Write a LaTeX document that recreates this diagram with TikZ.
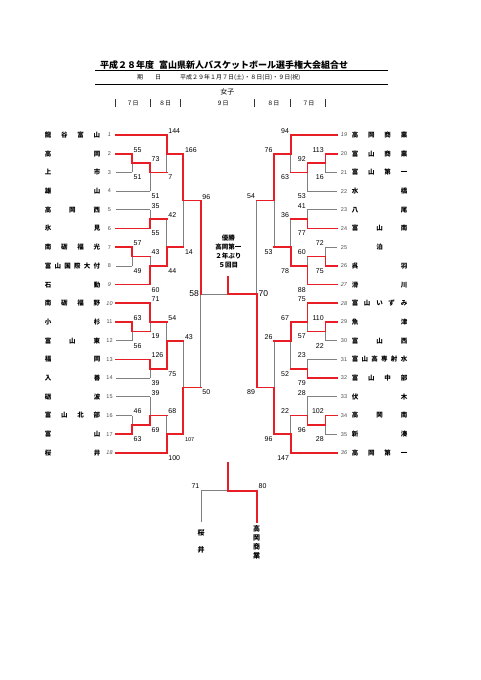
\documentclass[tikz,border=0pt]{standalone}
\usepackage{fontspec}
\setmainfont{Liberation Sans}
\newfontfamily\cjk{Noto Sans CJK JP}
\definecolor{lred}{RGB}{232,30,38}
\definecolor{lgray}{RGB}{128,128,128}
\pgfdeclarelayer{bg}
\pgfsetlayers{bg,main}
\newcommand{\Bk}[5]{%
  \begin{pgfonlayer}{bg}\draw[lose] (#1,#3) -- (#1,#4);\end{pgfonlayer}
  \draw[win] (#1,#2) -- (#1,#4) -- (#5,#4);}
\newcommand{\ScA}[4]{\node[sc,anchor=west] (#1) at ({#2+1.5},{#3-4}) {#4};}
\newcommand{\ScB}[4]{\node[sc,anchor=west] (#1) at ({#2+1.5},{#3+5}) {#4};}
\newcommand{\ScC}[4]{\node[sc,anchor=east] (#1) at ({#2-1.5},{#3-4}) {#4};}
\newcommand{\ScD}[4]{\node[sc,anchor=east] (#1) at ({#2-1.5},{#3+5}) {#4};}
\newcommand{\TeamN}[4]{\node[tn] (#1) at (#2,#3) {\makebox[55.5pt][s]{#4}};}
\newcommand{\TeamNo}[4]{\node[tno] (#1) at (#2,#3) {#4};}
\newcommand{\WinL}[3]{\draw[win] (#1,#3) -- (#2,#3);}
\newcommand{\LoseL}[3]{\begin{pgfonlayer}{bg}\draw[lose] (#1,#3) -- (#2,#3);\end{pgfonlayer}}
\begin{document}
\begin{tikzpicture}[x=1pt,y=-1pt,
  win/.style={draw=lred,line width=1.7pt,line cap=rect},
  lose/.style={draw=lgray,line width=0.8pt},
  sc/.style={font=\fontsize{7}{8}\selectfont,inner sep=0pt},
  fsc/.style={font=\fontsize{8.5}{9}\selectfont,inner sep=0pt},
  tn/.style={font=\cjk\bfseries\fontsize{6.5}{7}\selectfont,inner sep=0pt},
  tno/.style={font=\fontsize{5.5}{6}\selectfont,text=black!70,inner sep=0pt},
  hd/.style={font=\cjk\fontsize{6}{7}\selectfont,inner sep=0pt},
  ctext/.style={font=\cjk\bfseries\fontsize{6.5}{9}\selectfont,inner sep=0pt,align=center}]
\begin{pgfonlayer}{bg}
\fill[white] (0,0) rectangle (481,680);
\end{pgfonlayer}
\useasboundingbox (0,0) rectangle (481,680);

% ---------- header ----------
\node[font=\cjk\bfseries\fontsize{9}{10}\selectfont,anchor=west,inner sep=0pt] (title) at (100,65)
  {平成２８年度\hspace{5pt}富山県新人バスケットボール選手権大会組合せ};
\draw[line width=0.8pt] (95,70.7) -- (388,70.7);
\draw[line width=0.6pt] (95,84.3) -- (388,84.3);
\node[hd] (ki) at (140,77.7) {期};
\node[hd] (bi) at (158,77.7) {日};
\node[hd,anchor=west] (date) at (180,77.7) {平成２９年１月７日(土)・８日(日)・９日(祝)};
\node[hd,font=\cjk\fontsize{7}{8}\selectfont] (joshi) at (227.3,91.7) {女子};
\foreach \bx in {115,150,180.7,254,290,325}{\draw[line width=0.5pt,black!80] (\bx,99.3) -- (\bx,107.3);}
\node[hd] (d1) at (132.7,103.3) {７日};
\node[hd] (d2) at (165,103.3) {８日};
\node[hd] (d3) at (222.7,103.3) {９日};
\node[hd] (d4) at (273.3,103.3) {８日};
\node[hd] (d5) at (308.3,103.3) {７日};

% ---------- left team names ----------
\TeamN{l1}{72.5}{135}{龍\hfill 谷\hfill 富\hfill 山}
\TeamN{l2}{72.5}{153.7}{高\hfill 岡}
\TeamN{l3}{72.5}{172.4}{上\hfill 市}
\TeamN{l4}{72.5}{191.1}{雄\hfill 山}
\TeamN{l5}{72.5}{209.8}{高\hfill 岡\hfill 西}
\TeamN{l6}{72.5}{228.5}{氷\hfill 見}
\TeamN{l7}{72.5}{247.2}{南\hfill 砺\hfill 福\hfill 光}
\TeamN{l8}{72.5}{265.9}{富\hfill 山\hfill 国\hfill 際\hfill 大\hfill 付}
\TeamN{l9}{72.5}{284.6}{石\hfill 動}
\TeamN{l10}{72.5}{303.3}{南\hfill 砺\hfill 福\hfill 野}
\TeamN{l11}{72.5}{322}{小\hfill 杉}
\TeamN{l12}{72.5}{340.7}{富\hfill 山\hfill 東}
\TeamN{l13}{72.5}{359.4}{福\hfill 岡}
\TeamN{l14}{72.5}{378.1}{入\hfill 善}
\TeamN{l15}{72.5}{396.8}{砺\hfill 波}
\TeamN{l16}{72.5}{415.5}{富\hfill 山\hfill 北\hfill 部}
\TeamN{l17}{72.5}{434.2}{富\hfill 山}
\TeamN{l18}{72.5}{452.9}{桜\hfill 井}
% left numbers
\TeamNo{n1}{109.5}{135}{\textit{1}}
\TeamNo{n2}{109.5}{153.7}{2}
\TeamNo{n3}{109.5}{172.4}{3}
\TeamNo{n4}{109.5}{191.1}{4}
\TeamNo{n5}{109.5}{209.8}{5}
\TeamNo{n6}{109.5}{228.5}{6}
\TeamNo{n7}{109.5}{247.2}{7}
\TeamNo{n8}{109.5}{265.9}{8}
\TeamNo{n9}{109.5}{284.6}{\textit{9}}
\TeamNo{n10}{109.5}{303.3}{\textit{10}}
\TeamNo{n11}{109.5}{322}{11}
\TeamNo{n12}{109.5}{340.7}{12}
\TeamNo{n13}{109.5}{359.4}{13}
\TeamNo{n14}{109.5}{378.1}{14}
\TeamNo{n15}{109.5}{396.8}{15}
\TeamNo{n16}{109.5}{415.5}{16}
\TeamNo{n17}{109.5}{434.2}{17}
\TeamNo{n18}{109.5}{452.9}{\textit{18}}

% ---------- right team names ----------
\TeamN{r19}{379.5}{135}{高\hfill 岡\hfill 商\hfill 業}
\TeamN{r20}{379.5}{153.7}{富\hfill 山\hfill 商\hfill 業}
\TeamN{r21}{379.5}{172.4}{富\hfill 山\hfill 第\hfill 一}
\TeamN{r22}{379.5}{191.1}{水\hfill 橋}
\TeamN{r23}{379.5}{209.8}{八\hfill 尾}
\TeamN{r24}{379.5}{228.5}{富\hfill 山\hfill 南}
\TeamN{r25}{379.5}{247.2}{\hfill 泊\hfill}
\TeamN{r26}{379.5}{265.9}{呉\hfill 羽}
\TeamN{r27}{379.5}{284.6}{滑\hfill 川}
\TeamN{r28}{379.5}{303.3}{富\hfill 山\hfill い\hfill ず\hfill み}
\TeamN{r29}{379.5}{322}{魚\hfill 津}
\TeamN{r30}{379.5}{340.7}{富\hfill 山\hfill 西}
\TeamN{r31}{379.5}{359.4}{富\hfill 山\hfill 高\hfill 専\hfill 射\hfill 水}
\TeamN{r32}{379.5}{378.1}{富\hfill 山\hfill 中\hfill 部}
\TeamN{r33}{379.5}{396.8}{伏\hfill 木}
\TeamN{r34}{379.5}{415.5}{高\hfill 岡\hfill 南}
\TeamN{r35}{379.5}{434.2}{新\hfill 湊}
\TeamN{r36}{379.5}{452.9}{高\hfill 岡\hfill 第\hfill 一}
% right numbers
\TeamNo{n19}{344}{135}{\textit{19}}
\TeamNo{n20}{344}{153.7}{20}
\TeamNo{n21}{344}{172.4}{21}
\TeamNo{n22}{344}{191.1}{22}
\TeamNo{n23}{344}{209.8}{23}
\TeamNo{n24}{344}{228.5}{24}
\TeamNo{n25}{344}{247.2}{25}
\TeamNo{n26}{344}{265.9}{26}
\TeamNo{n27}{344}{284.6}{\textit{27}}
\TeamNo{n28}{344}{303.3}{\textit{28}}
\TeamNo{n29}{344}{322}{29}
\TeamNo{n30}{344}{340.7}{30}
\TeamNo{n31}{344}{359.4}{31}
\TeamNo{n32}{344}{378.1}{32}
\TeamNo{n33}{344}{396.8}{33}
\TeamNo{n34}{344}{415.5}{34}
\TeamNo{n35}{344}{434.2}{35}
\TeamNo{n36}{344}{452.9}{\textit{36}}

% ---------- left team lines ----------
\WinL{116}{166.7}{135}
\WinL{116}{132}{153.7}
\LoseL{116}{132}{172.4}
\LoseL{116}{150}{191.1}
\LoseL{116}{150}{209.8}
\WinL{116}{150}{228.5}
\WinL{116}{132}{247.2}
\LoseL{116}{132}{265.9}
\WinL{116}{150}{284.6}
\WinL{116}{150}{303.3}
\WinL{116}{132}{322}
\LoseL{116}{132}{340.7}
\WinL{116}{150}{359.4}
\LoseL{116}{150}{378.1}
\LoseL{116}{150}{396.8}
\LoseL{116}{132}{415.5}
\WinL{116}{132}{434.2}
\WinL{116}{166.7}{452.9}

% ---------- right team lines ----------
\WinL{336.7}{290.7}{135}
\WinL{336.7}{325.4}{153.7}
\LoseL{336.7}{325.4}{172.4}
\LoseL{336.7}{307.4}{191.1}
\LoseL{336.7}{307.4}{209.8}
\WinL{336.7}{307.4}{228.5}
\LoseL{336.7}{325.4}{247.2}
\WinL{336.7}{325.4}{265.9}
\WinL{336.7}{307.4}{284.6}
\WinL{336.7}{307.4}{303.3}
\WinL{336.7}{325.4}{322}
\LoseL{336.7}{325.4}{340.7}
\LoseL{336.7}{307.4}{359.4}
\WinL{336.7}{307.4}{378.1}
\LoseL{336.7}{307.4}{396.8}
\WinL{336.7}{325.4}{415.5}
\LoseL{336.7}{325.4}{434.2}
\WinL{336.7}{290.7}{452.9}

% ---------- left brackets ----------
\Bk{132}{153.7}{172.4}{163.05}{150}
\Bk{150}{163.05}{191.1}{172.4}{166.7}
\Bk{166.7}{135}{172.4}{154}{183.3}
\Bk{150}{228.5}{209.8}{219.15}{166.7}
\Bk{132}{247.2}{265.9}{256.55}{150}
\Bk{150}{284.6}{256.55}{265.9}{166.7}
\Bk{166.7}{265.9}{219.15}{247.2}{183.3}
\Bk{183.3}{154}{247.2}{200.6}{200.7}
\Bk{132}{322}{340.7}{331.35}{150}
\Bk{150}{303.3}{331.35}{322}{166.7}
\Bk{150}{359.4}{378.1}{368.75}{166.7}
\Bk{166.7}{368.75}{322}{340.7}{183.3}
\Bk{132}{434.2}{415.5}{424.85}{150}
\Bk{150}{424.85}{396.8}{415.5}{166.7}
\Bk{166.7}{452.9}{415.5}{434.2}{183.3}
\Bk{183.3}{434.2}{340.7}{387.45}{200.7}

% ---------- right brackets ----------
\Bk{325.4}{153.7}{172.4}{163.05}{307.4}
\Bk{307.4}{163.05}{191.1}{172.4}{290.7}
\Bk{290.7}{135}{172.4}{154}{274.1}
\Bk{307.4}{228.5}{209.8}{219.15}{290.7}
\Bk{325.4}{265.9}{247.2}{256.55}{307.4}
\Bk{307.4}{284.6}{256.55}{265.9}{290.7}
\Bk{290.7}{265.9}{219.15}{247.2}{274.1}
\Bk{274.1}{154}{247.2}{200.6}{256.7}
\Bk{325.4}{322}{340.7}{331.35}{307.4}
\Bk{307.4}{303.3}{331.35}{322}{290.7}
\Bk{307.4}{378.1}{359.4}{368.75}{290.7}
\Bk{290.7}{322}{368.75}{340.7}{274.1}
\Bk{325.4}{415.5}{434.2}{424.85}{307.4}
\Bk{307.4}{424.85}{396.8}{415.5}{290.7}
\Bk{290.7}{452.9}{415.5}{434.2}{274.1}
\Bk{274.1}{434.2}{340.7}{387.45}{256.7}

% ---------- final ----------
\begin{pgfonlayer}{bg}
\draw[lose] (200.7,294) -- (200.7,387.45);
\draw[lose] (200.7,294) -- (228.3,294);
\draw[lose] (256.7,294) -- (256.7,200.6);
\end{pgfonlayer}
\draw[win] (200.7,200.6) -- (200.7,294);
\draw[win] (256.7,387.45) -- (256.7,294) -- (228.3,294) -- (228.3,277);
\node[fsc,anchor=east] (f58) at (199,294) {58};
\node[fsc,anchor=west] (f70) at (258.5,294) {70};
\node[ctext] (champ) at (228.3,251.7) {優勝\\高岡第一\\２年ぶり\\５回目};

% ---------- left scores ----------
\ScA{s1}{132}{153.7}{55} \ScB{s2}{132}{172.4}{51}
\ScA{s3}{150}{163.05}{73} \ScB{s4}{150}{191.1}{51}
\ScA{s5}{166.7}{135}{144} \ScB{s6}{166.7}{172.4}{7}
\ScA{s7}{183.3}{154}{166} \ScB{s8}{183.3}{247.2}{14}
\ScA{s9}{150}{209.8}{35} \ScB{s10}{150}{228.5}{55}
\ScA{s11}{132}{247.2}{57} \ScB{s12}{132}{265.9}{49}
\ScA{s13}{150}{256.55}{43} \ScB{s14}{150}{284.6}{60}
\ScA{s15}{166.7}{219.15}{42} \ScB{s16}{166.7}{265.9}{44}
\ScA{s17}{200.7}{200.6}{96} \ScB{s18}{200.7}{387.45}{50}
\ScA{s19}{132}{322}{63} \ScB{s20}{132}{340.7}{56}
\ScA{s21}{150}{303.3}{71} \ScB{s22}{150}{331.35}{19}
\ScA{s23}{150}{359.4}{126} \ScB{s24}{150}{378.1}{39}
\ScA{s25}{166.7}{322}{54} \ScB{s26}{166.7}{368.75}{75}
\ScA{s27}{132}{415.5}{46} \ScB{s28}{132}{434.2}{63}
\ScA{s29}{150}{396.8}{39} \ScB{s30}{150}{424.85}{69}
\ScA{s31}{166.7}{415.5}{68} \ScB{s32}{166.7}{452.9}{100}
\ScA{s33}{183.3}{340.7}{43}
\node[sc,font=\fontsize{5.5}{6}\selectfont,anchor=west] (s34) at (184.8,439.2) {107};

% ---------- right scores ----------
\ScC{t1}{325.4}{153.7}{113} \ScD{t2}{325.4}{172.4}{16}
\ScC{t3}{307.4}{163.05}{92} \ScD{t4}{307.4}{191.1}{53}
\ScC{t5}{290.7}{135}{94} \ScD{t6}{290.7}{172.4}{63}
\ScC{t7}{274.1}{154}{76} \ScD{t8}{274.1}{247.2}{53}
\ScC{t9}{307.4}{209.8}{41} \ScD{t10}{307.4}{228.5}{77}
\ScC{t11}{325.4}{247.2}{72} \ScD{t12}{325.4}{265.9}{75}
\ScC{t13}{307.4}{256.55}{60} \ScD{t14}{307.4}{284.6}{88}
\ScC{t15}{290.7}{219.15}{36} \ScD{t16}{290.7}{265.9}{78}
\ScC{t17}{256.7}{200.6}{54} \ScD{t18}{256.7}{387.45}{89}
\ScC{t19}{325.4}{322}{110} \ScD{t20}{325.4}{340.7}{22}
\ScC{t21}{307.4}{303.3}{75} \ScD{t22}{307.4}{331.35}{57}
\ScC{t23}{307.4}{359.4}{23} \ScD{t24}{307.4}{378.1}{79}
\ScC{t25}{290.7}{322}{67} \ScD{t26}{290.7}{368.75}{52}
\ScC{t27}{325.4}{415.5}{102} \ScD{t28}{325.4}{434.2}{28}
\ScC{t29}{307.4}{396.8}{28} \ScD{t30}{307.4}{424.85}{96}
\ScC{t31}{290.7}{415.5}{22} \ScD{t32}{290.7}{452.9}{147}
\ScC{t33}{274.1}{340.7}{26} \ScD{t34}{274.1}{434.2}{96}

% ---------- third place ----------
\coordinate (tp) at (228.3,490.7);
\begin{pgfonlayer}{bg}
\draw[lose] (tp) -- (201,490.7) -- (201,521.7);
\end{pgfonlayer}
\draw[win] (228.3,462.7) -- (tp);
\draw[win] (tp) -- (256.7,490.7) -- (256.7,521.7);
\node[sc,anchor=east] (p71) at (199.5,486) {71};
\node[sc,anchor=west] (p80) at (258.5,486) {80};
\node[tn,font=\cjk\bfseries\fontsize{7}{16.7}\selectfont,align=center] (sakurai) at (201,541.7) {桜\\井};
\node[tn,font=\cjk\bfseries\fontsize{7}{9}\selectfont,align=center] (takasho) at (256.7,542.5) {高\\岡\\商\\業};
\end{tikzpicture}
\end{document}
